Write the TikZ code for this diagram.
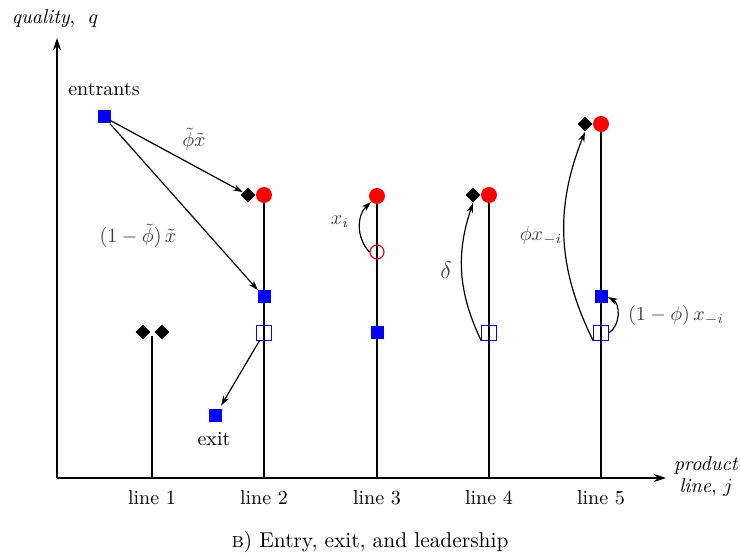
\documentclass[tikz,border=0pt]{standalone}
\usetikzlibrary{shapes.geometric,arrows.meta}
\begin{document}
\begin{tikzpicture}[x=0.5pt,y=-0.5pt,
  axisline/.style={line width=0.8pt,-{Stealth[length=6pt,width=4pt]}},
  stem/.style={line width=0.7pt},
  arr/.style={line width=0.6pt,-{Stealth[length=5pt,width=3.2pt]}},
  fsq/.style={rectangle,fill=blue,inner sep=0pt,minimum size=6.5pt},
  osq/.style={rectangle,draw=blue,line width=0.6pt,inner sep=0pt,minimum size=7.2pt},
  leader/.style={circle,fill=red,inner sep=0pt,minimum size=8pt},
  ocirc/.style={circle,draw=red,line width=0.6pt,inner sep=0pt,minimum size=7pt},
  dia/.style={diamond,fill=black,inner sep=0pt,minimum size=7.5pt},
  lab/.style={font=\normalsize},
  mlab/.style={font=\normalsize,text=black!75}]
\useasboundingbox (0,0) rectangle (740,555);

% axes
\coordinate (origin) at (57,478);
\coordinate (ytop) at (57,38);
\coordinate (xend) at (666,478);
\draw[axisline] (origin) -- (ytop);
\draw[axisline] (origin) -- (xend);
\node[lab] (qlab) at (55,19) {\textit{quality}, \ $q$};
\node[lab,align=center] (jlab) at (706,477) {\textit{product}\\[-1pt]\textit{line}, $j$};

% product line bases
\coordinate (b1) at (152,478);
\coordinate (b2) at (264,478);
\coordinate (b3) at (377,478);
\coordinate (b4) at (489,478);
\coordinate (b5) at (601,478);
\coordinate (t1) at (152,336);

% stems
\draw[stem] (t1) -- (b1);
\draw[stem] (264,195) -- (b2);
\draw[stem] (377,196) -- (b3);
\draw[stem] (489,195) -- (b4);
\draw[stem] (601,124) -- (b5);

% line labels
\node[lab] (l1) at (152,498) {line 1};
\node[lab] (l2) at (264,498) {line 2};
\node[lab] (l3) at (377,498) {line 3};
\node[lab] (l4) at (489,498) {line 4};
\node[lab] (l5) at (601,498) {line 5};

% line 1
\node[dia] (d1a) at (143,332) {};
\node[dia] (d1b) at (162,332) {};

% entrants and line 2
\node[fsq] (ent) at (104,117) {};
\node[lab] (entlab) at (104,89) {entrants};
\node[dia] (d2) at (248,195) {};
\node[leader] (c2) at (264,195) {};
\node[fsq] (s2) at (264,297) {};
\node[osq] (o2) at (264,333) {};
\node[fsq] (ex) at (215,416) {};
\node[lab] (exlab) at (214,439) {exit};
\draw[arr] (ent) -- (d2);
\draw[arr] (ent) -- (s2);
\draw[arr,shorten >=2pt] (o2) -- (ex);
\node[mlab] (phx) at (194,139) {$\tilde\phi\tilde x$};
\node[mlab] (ophx) at (138,236) {$(1-\tilde\phi)\,\tilde x$};

% line 3
\node[leader] (c3) at (377,196) {};
\node[ocirc] (oc3) at (377,252) {};
\node[fsq] (s3) at (377,333) {};
\draw[arr] (oc3.west) to[bend left=45] (c3.south west);
\node[mlab] (xi) at (340,222) {$x_i$};

% line 4
\node[dia] (d4) at (473,195) {};
\node[leader] (c4) at (489,195) {};
\node[osq] (o4) at (489,333) {};
\draw[arr] (o4.south west) to[bend left=22] (d4.south);
\node[mlab,font=\large] (dl) at (446,270) {$\delta$};

% line 5
\node[dia] (d5) at (585,124) {};
\node[leader] (c5) at (601,124) {};
\node[fsq] (s5) at (601,297) {};
\node[osq] (o5) at (601,333) {};
\draw[arr] (o5.south west) to[bend left=24] (d5.south);
\draw[arr] (o5.east) to[bend right=60] (s5.east);
\node[mlab] (phxi) at (541,236) {$\phi x_{-i}$};
\node[mlab] (ophxi) at (676,316) {$(1-\phi)\,x_{-i}$};

% caption
\node[font=\fontsize{10.7}{13}\selectfont] (cap) at (370,542) {\textsc{b}) Entry, exit, and leadership};
\end{tikzpicture}
\end{document}
